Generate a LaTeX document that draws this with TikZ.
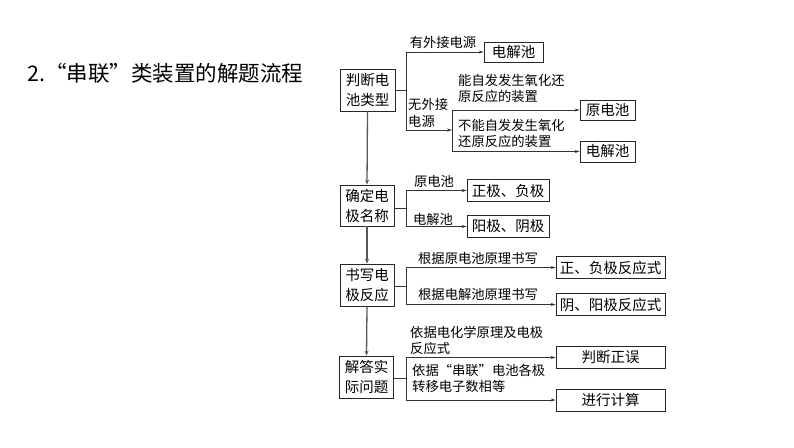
\documentclass[tikz,border=0pt]{standalone}
\usepackage{fontspec}
\setmainfont{Noto Sans CJK SC}
\newfontfamily\cjk{Noto Sans CJK SC}
\usetikzlibrary{arrows.meta}
\begin{document}
\begin{tikzpicture}[x=1pt, y=-1pt,
    stepbox/.style={draw=black!85, line width=0.8pt, inner sep=0pt, align=center, font=\cjk\fontsize{14.5}{20}\selectfont},
    endbox/.style={draw=black!85, line width=0.8pt, inner sep=0pt, align=center, minimum height=22pt, font=\cjk\fontsize{14.5}{16}\selectfont},
    lbl/.style={inner sep=0pt, align=left, font=\cjk\fontsize{13.3}{16.5}\selectfont},
    link/.style={draw=black!80, line width=0.7pt},
    arr/.style={link, -{Stealth[length=5pt, width=3pt]}},
    mainarr/.style={draw=black!65, line width=1.3pt, -{Stealth[length=5pt, width=4pt]}}]
    \useasboundingbox (0,0) rectangle (794,447);
    \node[anchor=west, font=\cjk\fontsize{21.5}{24}\selectfont] (title) at (24,73) {2.“串联”类装置的解题流程};

    % left column
    \node[stepbox, minimum width=55pt, minimum height=42pt] (b1) at (367.5,90) {判断电\\池类型};
    \node[stepbox, minimum width=54pt, minimum height=41pt] (b2) at (367,205.5) {确定电\\极名称};
    \node[stepbox, minimum width=54pt, minimum height=42pt] (b3) at (367,285) {书写电\\极反应};
    \node[stepbox, minimum width=54pt, minimum height=42pt] (b4) at (366.5,377) {解答实\\际问题};
    \draw[mainarr] (b1.south) -- (b2.north);
    \draw[mainarr] (b2.south) -- (b3.north);
    \draw[mainarr] (b3.south) -- (b4.north);

    % results
    \node[endbox, minimum width=59pt, minimum height=20pt] (r1a) at (513.5,52) {电解池};
    \node[endbox, minimum width=55pt, minimum height=20pt] (r1b) at (607.5,110) {原电池};
    \node[endbox, minimum width=55pt, minimum height=21pt] (r1c) at (607.5,151.5) {电解池};
    \node[endbox, minimum width=82pt] (r2a) at (508,190.5) {正极、负极};
    \node[endbox, minimum width=82pt] (r2b) at (508,226.5) {阳极、阴极};
    \node[endbox, minimum width=109pt] (r3a) at (610.5,267.5) {正、负极反应式};
    \node[endbox, minimum width=109pt] (r3b) at (610.5,304.5) {阴、阳极反应式};
    \node[endbox, minimum width=109pt] (r4a) at (610.5,357.5) {判断正误};
    \node[endbox, minimum width=109pt] (r4b) at (610.5,400) {进行计算};

    % branches
    \coordinate (s1) at (406,90);
    \coordinate (k1) at (452,130);
    \draw[link] (b1.east) -- (s1);
    \draw[arr] (s1) |- (r1a.west);
    \draw[arr] (s1) |- (k1);
    \draw[arr] (k1) |- (r1b.west);
    \draw[arr] (k1) |- (r1c.west);

    \coordinate (s2) at (406,208);
    \draw[link] (b2.east |- s2) -- (s2);
    \draw[arr] (s2) |- (r2a.west);
    \draw[arr] (s2) |- (r2b.west);

    \coordinate (s3) at (406,286);
    \draw[link] (b3.east |- s3) -- (s3);
    \draw[arr] (s3) |- (r3a.west);
    \draw[arr] (s3) |- (r3b.west);

    \coordinate (s4) at (406,378);
    \draw[link] (b4.east |- s4) -- (s4);
    \draw[arr] (s4) |- (r4a.west);
    \draw[arr] (s4) |- (r4b.west);

    % labels
    \node[lbl] (l1a) at (443,42) {有外接电源};
    \node[lbl, anchor=west] (l1b) at (408,113) {无外接\\电源};
    \node[lbl, anchor=north west] (l1c) at (458,74) {能自发发生氧化还\\原反应的装置};
    \node[lbl, anchor=north west] (l1d) at (458,119) {不能自发发生氧化\\还原反应的装置};
    \node[lbl] (l2a) at (434,181) {原电池};
    \node[lbl] (l2b) at (433,219) {电解池};
    \node[lbl] (l3a) at (478,258) {根据原电池原理书写};
    \node[lbl] (l3b) at (478,294) {根据电解池原理书写};
    \node[lbl, anchor=north west] (l4a) at (410,326) {依据电化学原理及电极\\反应式};
    \node[lbl, anchor=north west] (l4b) at (412,364) {依据“串联”电池各极\\转移电子数相等};
\end{tikzpicture}
\end{document}
